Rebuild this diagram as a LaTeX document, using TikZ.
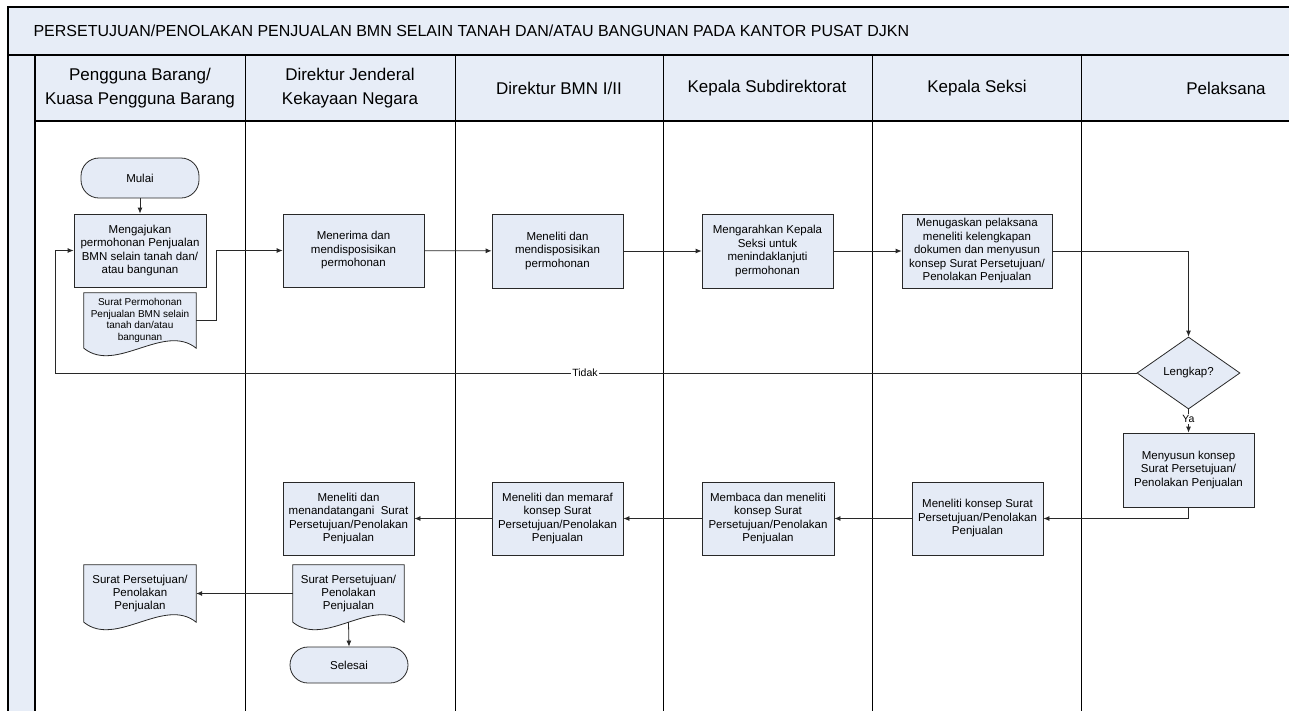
\documentclass[tikz,border=0pt]{standalone}
\usepackage{fontspec}
\setmainfont{Liberation Sans}
\usetikzlibrary{arrows.meta,shapes.geometric,backgrounds}

\definecolor{lanefill}{RGB}{231,237,247}
\definecolor{boxfill}{RGB}{229,235,246}
\definecolor{flowline}{RGB}{40,40,40}

% wavy document outline round a node
\newcommand{\docwave}[1]{%
  \filldraw[docline] (#1.north west) -- (#1.south west)
    .. controls +(32pt,-26pt) and +(-32pt,26pt) .. (#1.south east)
    -- (#1.north east) -- cycle;}

\begin{document}
\begin{tikzpicture}[x=1pt,y=-1pt,
    lanehead/.style={align=center, font=\fontsize{17}{24}\selectfont},
    proc/.style={draw=flowline, line width=0.8pt, fill=boxfill, align=center,
      inner sep=1pt, font=\fontsize{11.5}{13.5}\selectfont},
    term/.style={proc, rounded corners=18pt},
    docu/.style={align=center, inner sep=1pt},
    docline/.style={draw=flowline, line width=0.8pt, fill=boxfill},
    decision/.style={diamond, draw=flowline, line width=0.8pt, fill=boxfill,
      inner sep=0pt, minimum width=103pt, minimum height=72pt,
      font=\fontsize{11.5}{13.5}\selectfont},
    flow/.style={draw=flowline, line width=0.8pt, -{Latex[length=6pt,width=5pt]}},
    lbl/.style={fill=white, inner sep=1pt, font=\fontsize{10.5}{12}\selectfont}]
    \useasboundingbox (0,0) rectangle (1289,710);
    \clip (0,0) rectangle (1289,710);

    % Pool and lanes
    \fill[lanefill] (8,7) rectangle (1300,55);
    \fill[lanefill] (8,55) rectangle (35,720);
    \fill[lanefill] (35,55) rectangle (1300,121);
    \draw[line width=1.5pt] (8,720) -- (8,7) -- (1300,7);
    \draw[line width=1.2pt] (8,55) -- (1300,55);
    \draw[line width=1.2pt] (35,121) -- (1300,121);
    \draw[line width=1.2pt] (35,55) -- (35,720);
    \foreach \x in {245,455,663,872,1081} {
        \draw[line width=0.9pt] (\x,55) -- (\x,720);
    }

    % Title and lane names
    \node[anchor=west, font=\fontsize{16}{19}\selectfont] (title) at (30,31)
        {PERSETUJUAN/PENOLAKAN PENJUALAN BMN SELAIN TANAH DAN/ATAU BANGUNAN PADA KANTOR PUSAT DJKN};
    \node[lanehead] (hdA) at (140,88) {Pengguna Barang/\\Kuasa Pengguna Barang};
    \node[lanehead] (hdB) at (350,88) {Direktur Jenderal\\Kekayaan Negara};
    \node[lanehead] (hdC) at (559,88) {Direktur BMN I/II};
    \node[lanehead] (hdD) at (767,88) {Kepala Subdirektorat};
    \node[lanehead] (hdE) at (977,88) {Kepala Seksi};
    \node[lanehead] (hdF) at (1226,88) {Pelaksana};

    % Steps
    \node[term, minimum width=118pt, minimum height=40pt] (mulai) at (140,178) {Mulai};
    \node[proc, minimum width=132pt, minimum height=73pt] (ajukan) at (140,250.5)
        {Mengajukan\\permohonan Penjualan\\BMN selain tanah dan/\\atau bangunan};
    \node[docu, minimum width=112pt, minimum height=55pt, font=\fontsize{10}{11.5}\selectfont] (srtmohon) at (140,320.5)
        {Surat Permohonan\\Penjualan BMN selain\\tanah dan/atau\\bangunan};
    \node[proc, minimum width=141pt, minimum height=73pt] (terima) at (353.5,250.5)
        {Menerima dan\\mendisposisikan\\permohonan};
    \node[proc, minimum width=131pt, minimum height=74pt] (teliti) at (557.5,251)
        {Meneliti dan\\mendisposisikan\\permohonan};
    \node[proc, minimum width=131pt, minimum height=74pt] (arahkan) at (767.5,251)
        {Mengarahkan Kepala\\Seksi untuk\\menindaklanjuti\\permohonan};
    \node[proc, minimum width=150pt, minimum height=74pt] (tugaskan) at (977,251)
        {Menugaskan pelaksana\\meneliti kelengkapan\\dokumen dan menyusun\\konsep Surat Persetujuan/\\Penolakan Penjualan};
    \node[decision] (lengkap) at (1188.5,373) {Lengkap?};
    \node[proc, minimum width=131pt, minimum height=74pt] (susun) at (1188.5,470)
        {Menyusun konsep\\Surat Persetujuan/\\Penolakan Penjualan};
    \node[proc, minimum width=131pt, minimum height=73pt] (konsep) at (977.5,518.5)
        {Meneliti konsep Surat\\Persetujuan/Penolakan\\Penjualan};
    \node[proc, minimum width=132pt, minimum height=73pt] (baca) at (768,518.5)
        {Membaca dan meneliti\\konsep Surat\\Persetujuan/Penolakan\\Penjualan};
    \node[proc, minimum width=131pt, minimum height=73pt] (paraf) at (557.5,518.5)
        {Meneliti dan memaraf\\konsep Surat\\Persetujuan/Penolakan\\Penjualan};
    \node[proc, minimum width=131pt, minimum height=73pt] (tandatangan) at (348.5,518.5)
        {Meneliti dan\\menandatangani\ \ Surat\\Persetujuan/Penolakan\\Penjualan};
    \node[docu, minimum width=111pt, minimum height=57pt, font=\fontsize{11.5}{13.3}\selectfont] (srtsetuju) at (348.5,593.5)
        {Surat Persetujuan/\\Penolakan\\Penjualan};
    \node[docu, minimum width=112pt, minimum height=57pt, font=\fontsize{11.5}{13.3}\selectfont] (srtarsip) at (140,593.5)
        {Surat Persetujuan/\\Penolakan\\Penjualan};
    \node[term, minimum width=118pt, minimum height=36pt] (selesai) at (349,665) {Selesai};

    \begin{scope}[on background layer]
        \docwave{srtmohon}
        \docwave{srtsetuju}
        \docwave{srtarsip}
    \end{scope}

    % Connectors
    \coordinate (balik) at (55,373);
    \draw[flow] (mulai) -- (ajukan);
    \draw[flow] (srtmohon.east) -- ++(20pt,0pt) |- (terima.west);
    \draw[flow] (terima) -- (teliti);
    \draw[flow] (teliti) -- (arahkan);
    \draw[flow] (arahkan) -- (tugaskan);
    \draw[flow] (tugaskan.east) -| (lengkap.north);
    \draw[flow] (lengkap.west) -- node[lbl, pos=0.51] {Tidak} (balik) |- (ajukan.west);
    \draw[flow] (lengkap.south) -- node[lbl, pos=0.42] {Ya} (susun.north);
    \draw[flow] (susun.south) |- (konsep.east);
    \draw[flow] (konsep) -- (baca);
    \draw[flow] (baca) -- (paraf);
    \draw[flow] (paraf) -- (tandatangan);
    \draw[flow] (srtsetuju.west) -- (srtarsip.east);
    \draw[flow] (srtsetuju.south) -- (selesai.north);
\end{tikzpicture}
\end{document}
